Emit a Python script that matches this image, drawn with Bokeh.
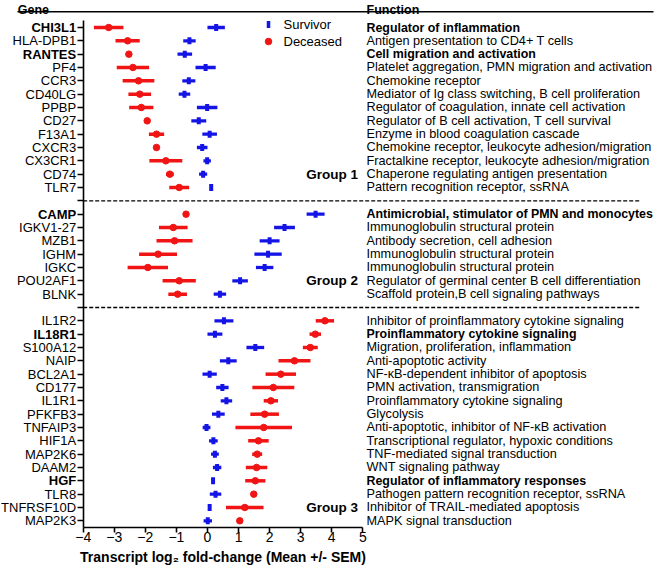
from bokeh.plotting import figure
from bokeh.models import Range1d, LinearAxis, FixedTicker
from bokeh.core.properties import value
from bokeh.embed import file_html
from bokeh.resources import INLINE

# ---------------- data ----------------
g1_genes = ["CHI3L1", "HLA-DPB1", "RANTES", "PF4", "CCR3", "CD40LG", "PPBP",
            "CD27", "F13A1", "CXCR3", "CX3CR1", "CD74", "TLR7"]
g1_surv_mean = [0.28, -0.58, -0.73, -0.06, -0.60, -0.74, -0.01, -0.28, 0.07, -0.17, -0.01, -0.14, 0.12]
g1_surv_sem = [0.28, 0.20, 0.235, 0.325, 0.21, 0.185, 0.33, 0.24, 0.235, 0.17, 0.12, 0.13, 0.04]
g1_dec_mean = [-3.18, -2.57, -2.53, -2.40, -2.22, -2.18, -2.13, -1.94, -1.64, -1.64, -1.34, -1.21, -0.91]
g1_dec_sem = [0.475, 0.39, 0.06, 0.52, 0.51, 0.365, 0.39, 0.04, 0.245, 0.04, 0.53, 0.125, 0.32]
g1_functions = ["Regulator of inflammation",
                "Antigen presentation to CD4+ T cells",
                "Cell migration and activation",
                "Platelet aggregation, PMN migration and activation",
                "Chemokine receptor",
                "Mediator of Ig class switching, B cell proliferation",
                "Regulator of coagulation, innate cell activation",
                "Regulator of B cell activation, T cell survival",
                "Enzyme in blood coagulation cascade",
                "Chemokine receptor, leukocyte adhesion/migration",
                "Fractalkine receptor, leukocyte adhesion/migration",
                "Chaperone regulating antigen presentation",
                "Pattern recognition receptor, ssRNA"]

g2_genes = ["CAMP", "IGKV1-27", "MZB1", "IGHM", "IGKC", "POU2AF1", "BLNK"]
g2_surv_mean = [3.48, 2.48, 2.00, 1.95, 1.84, 1.05, 0.40]
g2_surv_sem = [0.29, 0.335, 0.32, 0.44, 0.28, 0.25, 0.20]
g2_dec_mean = [-0.69, -1.10, -1.06, -1.59, -1.92, -0.91, -0.96]
g2_dec_sem = [0.04, 0.46, 0.58, 0.61, 0.65, 0.535, 0.30]
g2_functions = ["Antimicrobial, stimulator of PMN and monocytes",
                "Immunoglobulin structural protein",
                "Antibody secretion, cell adhesion",
                "Immunoglobulin structural protein",
                "Immunoglobulin structural protein",
                "Regulator of germinal center B cell differentiation",
                "Scaffold protein,B cell signaling pathways"]

g3_genes = ["IL1R2", "IL18R1", "S100A12", "NAIP", "BCL2A1", "CD177", "IL1R1", "PFKFB3",
            "TNFAIP3", "HIF1A", "MAP2K6", "DAAM2", "HGF", "TLR8", "TNFRSF10D", "MAP2K3"]
g3_surv_mean = [0.53, 0.24, 1.54, 0.67, 0.07, 0.48, 0.61, 0.35, -0.03, 0.19, 0.24, 0.31, 0.18, 0.26, 0.07, 0.01]
g3_surv_sem = [0.305, 0.24, 0.285, 0.27, 0.23, 0.20, 0.185, 0.205, 0.125, 0.14, 0.125, 0.135, 0.04, 0.185, 0.04, 0.135]
g3_dec_mean = [3.78, 3.47, 3.31, 2.80, 2.36, 2.12, 2.04, 1.84, 1.81, 1.64, 1.60, 1.58, 1.54, 1.49, 1.20, 1.04]
g3_dec_sem = [0.295, 0.185, 0.24, 0.515, 0.49, 0.675, 0.23, 0.46, 0.91, 0.33, 0.16, 0.345, 0.325, 0.04, 0.605, 0.04]
g3_functions = ["Inhibitor of proinflammatory cytokine signaling",
                "Proinflammatory cytokine signaling",
                "Migration, proliferation, inflammation",
                "Anti-apoptotic activity",
                "NF-\u03baB-dependent inhibitor of apoptosis",
                "PMN activation, transmigration",
                "Proinflammatory cytokine signaling",
                "Glycolysis",
                "Anti-apoptotic, inhibitor of NF-\u03baB activation",
                "Transcriptional regulator, hypoxic conditions",
                "TNF-mediated signal transduction",
                "WNT signaling pathway",
                "Regulator of inflammatory responses",
                "Pathogen pattern recognition receptor, ssRNA",
                "Inhibitor of TRAIL-mediated apoptosis",
                "MAPK signal transduction"]

bold_genes = ["CHI3L1", "RANTES", "CAMP", "IL18R1", "HGF"]
group_names = ["Group 1", "Group 2", "Group 3"]
x_ticks = [-4, -3, -2, -1, 0, 1, 2, 3, 4, 5]
series_names = ["Survivor", "Deceased"]
x_title = "Transcript log\u2082 fold-change (Mean +/- SEM)"
header_gene = "Gene"
header_function = "Function"

# ---------------- layout of rows ----------------
groups = [
    (g1_genes, g1_surv_mean, g1_surv_sem, g1_dec_mean, g1_dec_sem, g1_functions),
    (g2_genes, g2_surv_mean, g2_surv_sem, g2_dec_mean, g2_dec_sem, g2_functions),
    (g3_genes, g3_surv_mean, g3_surv_sem, g3_dec_mean, g3_dec_sem, g3_functions),
]
genes, rows, sm, ss, dm, ds, funcs = [], [], [], [], [], [], []
gap_rows, group_label_rows = [], []
r = 0
for gi, (gg, a, b, c, d, f) in enumerate(groups):
    for k in range(len(gg)):
        genes.append(gg[k]); rows.append(r); sm.append(a[k]); ss.append(b[k])
        dm.append(c[k]); ds.append(d[k]); funcs.append(f[k])
        r += 1
    group_label_rows.append(r - 2)
    if gi < len(groups) - 1:
        gap_rows.append(r)
        r += 1
n_rows = r  # 38 positions

RED = "#f01414"
BLUE = "#1414e6"
FONT = "Liberation Sans"

W, H = 660, 570
PXU = 31.07          # px per x unit
X0 = 206.97          # pixel x of value 0
ROW_PX = 13.333
ROW0 = 27.0          # pixel y of first row


def px_x(px):
    return (px - X0) / PXU


def px_row(py):
    return (py - ROW0) / ROW_PX


p = figure(width=W, height=H, output_backend="svg", toolbar_location=None,
           x_range=Range1d(px_x(0), px_x(W)), y_range=Range1d(px_row(H), px_row(0)),
           x_axis_location=None, y_axis_location=None,
           min_border=0, min_border_left=0, min_border_right=0,
           min_border_top=0, min_border_bottom=0)
p.outline_line_color = None
p.grid.visible = False
p.background_fill_color = "white"
p.border_fill_color = "white"

# axes
xmin, xmax = x_ticks[0], x_ticks[-1]
xaxis = LinearAxis(ticker=FixedTicker(ticks=x_ticks), fixed_location=n_rows - 0.5,
                   bounds=(xmin, xmax), axis_label=x_title)
xaxis.axis_line_width = 1.6
xaxis.major_tick_line_width = 1.6
xaxis.major_tick_out = 5
xaxis.major_tick_in = 0
xaxis.minor_tick_line_color = None
xaxis.major_label_text_font = FONT
xaxis.major_label_text_font_size = "14px"
xaxis.major_label_text_color = "black"
xaxis.major_label_standoff = 0
xaxis.axis_label_text_font = FONT
xaxis.axis_label_text_font_size = "14px"
xaxis.axis_label_text_font_style = "bold"
xaxis.axis_label_text_color = "black"
xaxis.axis_label_standoff = 3
p.add_layout(xaxis, "below")

overrides = {}
for i in range(n_rows):
    overrides[i] = ""
for g, rr in zip(genes, rows):
    overrides[rr] = "" if g in bold_genes else g
yaxis = LinearAxis(ticker=FixedTicker(ticks=list(range(n_rows))), fixed_location=xmin,
                   bounds=(-0.5, n_rows - 0.5), major_label_overrides=overrides)
yaxis.axis_line_width = 1.6
yaxis.major_tick_line_width = 1.6
yaxis.major_tick_out = 6
yaxis.major_tick_in = 0
yaxis.minor_tick_line_color = None
yaxis.major_label_text_font = FONT
yaxis.major_label_text_font_size = "13px"
yaxis.major_label_text_color = "black"
yaxis.major_label_standoff = 1
p.add_layout(yaxis, "left")

# bold gene labels
bold_rows = [rr for g, rr in zip(genes, rows) if g in bold_genes]
bold_names = [g for g in genes if g in bold_genes]
p.text(x=[xmin] * len(bold_rows), y=bold_rows, text=bold_names, x_offset=-7,
       text_align="right", text_baseline="middle", text_font=value(FONT),
       text_font_size="13px", text_font_style="bold", text_color="black")

# separators
p.segment(x0=[xmin] * len(gap_rows), x1=[px_x(640)] * len(gap_rows), y0=gap_rows, y1=gap_rows,
          line_color="black", line_width=1.4, line_dash="4 2")

# error bars and means
p.segment(x0=[m - s for m, s in zip(dm, ds)], x1=[m + s for m, s in zip(dm, ds)],
          y0=rows, y1=rows, line_color=RED, line_width=3.5, line_cap="butt")
p.segment(x0=[m - s for m, s in zip(sm, ss)], x1=[m + s for m, s in zip(sm, ss)],
          y0=rows, y1=rows, line_color=BLUE, line_width=3.3, line_cap="butt")
p.scatter(x=dm, y=rows, marker="circle", size=6.5, fill_color=RED, line_color=RED)
p.rect(x=sm, y=rows, width=4, height=7, width_units="screen", height_units="screen",
       fill_color=BLUE, line_color=None)

# legend (marker + label)
lx = px_x(268)
ly = [px_row(24), px_row(41)]
p.rect(x=[lx], y=[ly[0]], width=3.5, height=7, width_units="screen", height_units="screen",
       fill_color=BLUE, line_color=None)
p.scatter(x=[lx], y=[ly[1]], marker="circle", size=6.5, fill_color=RED, line_color=RED)
p.text(x=[px_x(283)] * 2, y=ly, text=series_names, text_align="left", text_baseline="middle",
       text_font=value(FONT), text_font_size="13px", text_color="black")

# function texts
norm_idx = [i for i, g in enumerate(genes) if g not in bold_genes]
bold_idx = [i for i, g in enumerate(genes) if g in bold_genes]
fx = px_x(366)
p.text(x=[fx] * len(norm_idx), y=[rows[i] for i in norm_idx], text=[funcs[i] for i in norm_idx],
       text_align="left", text_baseline="middle", text_font=value(FONT),
       text_font_size="12.7px", text_color="black")
p.text(x=[fx] * len(bold_idx), y=[rows[i] for i in bold_idx], text=[funcs[i] for i in bold_idx],
       text_align="left", text_baseline="middle", text_font=value(FONT),
       text_font_size="12.4px", text_font_style="bold", text_color="black")

# group labels
p.text(x=[px_x(357.5)] * 3, y=group_label_rows, text=group_names, text_align="right",
       text_baseline="middle", text_font=value(FONT), text_font_size="13.5px",
       text_font_style="bold", text_color="black")

# headers
p.text(x=[px_x(17.3), fx], y=[px_row(9.8)] * 2, text=[header_gene, header_function],
       text_align="left", text_baseline="alphabetic", text_font=value(FONT),
       text_font_size="12.5px", text_font_style="bold", text_color="black")
p.segment(x0=[px_x(17)], x1=[px_x(653)], y0=[px_row(11.3)], y1=[px_row(11.3)],
          line_color="black", line_width=1.4)

open("out.html", "w").write(file_html(p, INLINE))
